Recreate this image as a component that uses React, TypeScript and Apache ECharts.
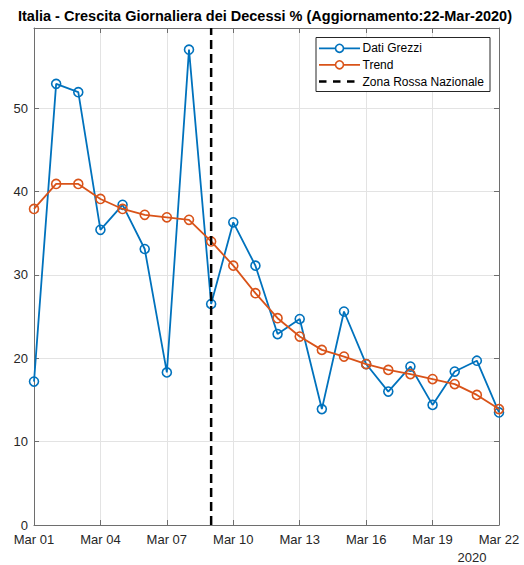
import React, { useEffect, useRef } from "react";
import * as echarts from "echarts";

const dates = [
  "Mar 01", "Mar 02", "Mar 03", "Mar 04", "Mar 05", "Mar 06", "Mar 07", "Mar 08",
  "Mar 09", "Mar 10", "Mar 11", "Mar 12", "Mar 13", "Mar 14", "Mar 15", "Mar 16",
  "Mar 17", "Mar 18", "Mar 19", "Mar 20", "Mar 21", "Mar 22",
];
const datiGrezzi = [
  17.2, 52.9, 51.9, 35.4, 38.4, 33.1, 18.3, 57.0, 26.5, 36.3, 31.1,
  22.9, 24.7, 13.9, 25.6, 19.3, 16.0, 19.0, 14.4, 18.4, 19.7, 13.5,
];
const trend = [
  37.9, 40.9, 40.9, 39.1, 37.9, 37.2, 36.9, 36.6, 34.0, 31.1, 27.8,
  24.8, 22.6, 21.0, 20.2, 19.3, 18.6, 18.1, 17.5, 16.9, 15.6, 13.9,
];
const seriesNames = ["Dati Grezzi", "Trend", "Zona Rossa Nazionale"];
const zonaRossaDate = "Mar 09";
const yMin = 0;
const yMax = 59.6;
const yInterval = 10;
const xInterval = 3;
const yearLabel = "2020";
const titleText = "Italia - Crescita Giornaliera dei Decessi % (Aggiornamento:22-Mar-2020)";

const FONT = "'Liberation Sans', Arial, Helvetica, sans-serif";
const BLUE = "#0072BD";
const ORANGE = "#D95319";
const AXIS = "#6e6e6e";
const DASH = [9, 5];

export default function App() {
  const ref = useRef<HTMLDivElement>(null);
  useEffect(() => {
    if (!ref.current) return;
    const chart = echarts.init(ref.current, null, { renderer: "svg" });
    const zr = dates.indexOf(zonaRossaDate);
    const xLabel = (v: number) => (Number.isInteger(v) && dates[v] ? dates[v] : "");
    const circle = (color: string) => ({
      symbol: "circle",
      symbolSize: 9,
      itemStyle: { color: "rgba(255,255,255,0)", borderColor: color, borderWidth: 1.6 },
      lineStyle: { color, width: 1.8 },
    });

    // hand-drawn legend box (MATLAB style)
    const lgX = 316, lgY = 37.5, lgW = 174, lgH = 54;
    const rowY = [48.3, 64.8, 81.5];
    const lineX0 = 319, lineX1 = 360, textX = 362.5;
    const legendColors = [BLUE, ORANGE, "#000"];
    const legendEls: any[] = [
      {
        type: "rect",
        shape: { x: lgX, y: lgY, width: lgW, height: lgH },
        style: { fill: "#fff", stroke: "#262626", lineWidth: 1 },
        z: 100,
      },
    ];
    seriesNames.forEach((name, i) => {
      const dashed = i === 2;
      legendEls.push({
        type: "line",
        shape: { x1: lineX0, y1: rowY[i], x2: lineX1, y2: rowY[i] },
        style: {
          stroke: legendColors[i],
          lineWidth: dashed ? 2.5 : 1.8,
          lineDash: dashed ? [7.5, 6.5] : null,
        },
        z: 101,
      });
      if (!dashed) {
        legendEls.push({
          type: "circle",
          shape: { cx: (lineX0 + lineX1) / 2, cy: rowY[i], r: 4 },
          style: { fill: "#fff", stroke: legendColors[i], lineWidth: 1.6 },
          z: 102,
        });
      }
      legendEls.push({
        type: "text",
        x: textX,
        y: rowY[i],
        style: {
          text: name,
          fontSize: 12,
          fontFamily: FONT,
          fill: "#000",
          align: "left",
          verticalAlign: "middle",
        },
        z: 102,
      });
    });

    chart.setOption({
      animation: false,
      textStyle: { fontFamily: FONT },
      grid: { left: 34, right: 25, top: 28, bottom: 40, containLabel: false },
      xAxis: [
        {
          type: "value",
          min: 0,
          max: dates.length - 1,
          interval: xInterval,
          axisLine: { show: true, lineStyle: { color: AXIS, width: 1 } },
          axisTick: { show: true, inside: true, length: 5, lineStyle: { color: AXIS } },
          axisLabel: { formatter: xLabel, fontSize: 13, color: "#262626", margin: 8, fontFamily: FONT },
          splitLine: { show: true, lineStyle: { color: "#e3e3e3", width: 1 } },
        },
        {
          type: "value",
          position: "top",
          min: 0,
          max: dates.length - 1,
          interval: xInterval,
          axisLine: { show: true, onZero: false, lineStyle: { color: AXIS, width: 1 } },
          axisTick: { show: true, inside: true, length: 5, lineStyle: { color: AXIS } },
          axisLabel: { show: false },
          splitLine: { show: false },
        },
      ],
      yAxis: [
        {
          type: "value",
          min: yMin,
          max: yMax,
          interval: yInterval,
          axisLine: { show: true, lineStyle: { color: AXIS, width: 1 } },
          axisTick: { show: true, inside: true, length: 5, lineStyle: { color: AXIS } },
          axisLabel: {
            formatter: (v: number) => (v % yInterval === 0 ? String(v) : ""),
            fontSize: 13,
            color: "#262626",
            margin: 6,
            fontFamily: FONT,
          },
          splitLine: { show: true, lineStyle: { color: "#e3e3e3", width: 1 } },
        },
        {
          type: "value",
          position: "right",
          min: yMin,
          max: yMax,
          interval: yInterval,
          axisLine: { show: true, onZero: false, lineStyle: { color: AXIS, width: 1 } },
          axisTick: { show: true, inside: true, length: 5, lineStyle: { color: AXIS } },
          axisLabel: { show: false },
          splitLine: { show: false },
        },
      ],
      series: [
        {
          name: seriesNames[0],
          type: "line",
          xAxisIndex: 0,
          yAxisIndex: 0,
          data: datiGrezzi.map((v, i) => [i, v]),
          ...circle(BLUE),
          z: 2,
        },
        {
          name: seriesNames[1],
          type: "line",
          xAxisIndex: 0,
          yAxisIndex: 0,
          data: trend.map((v, i) => [i, v]),
          ...circle(ORANGE),
          z: 3,
        },
        {
          name: seriesNames[2],
          type: "line",
          xAxisIndex: 0,
          yAxisIndex: 0,
          symbol: "none",
          data: [
            [zr, yMin],
            [zr, yMax],
          ],
          itemStyle: { color: "#000" },
          lineStyle: { color: "#000", width: 2.5, type: DASH },
          z: 4,
        },
      ],
      graphic: [
        {
          type: "text",
          x: 265,
          y: 15.5,
          style: {
            text: titleText,
            fontSize: 14.5,
            fontWeight: "bold",
            fontFamily: FONT,
            fill: "#000",
            align: "center",
            verticalAlign: "middle",
          },
        },
        {
          type: "text",
          x: 472,
          y: 557,
          style: {
            text: yearLabel,
            fontSize: 13,
            fill: "#262626",
            fontFamily: FONT,
            align: "center",
            verticalAlign: "middle",
          },
        },
        ...legendEls,
      ],
    });
    return () => chart.dispose();
  }, []);
  return (
    <div
      ref={ref}
      style={{ position: "fixed", left: 0, top: 0, width: 524, height: 565, background: "#fff" }}
    />
  );
}
